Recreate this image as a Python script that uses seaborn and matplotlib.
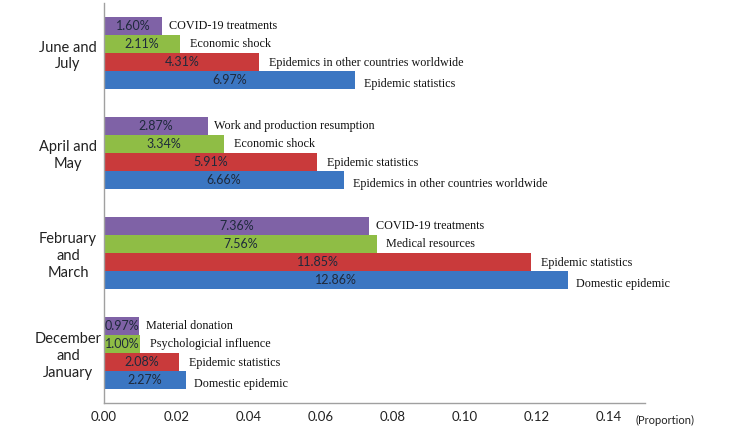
import matplotlib
matplotlib.use("Agg")
import matplotlib.pyplot as plt
import seaborn as sns
import pandas as pd
import numpy as np

periods = ["June and\nJuly", "April and\nMay", "February\nand\nMarch", "December\nand\nJanuary"]
ranks = ["4th", "3rd", "2nd", "1st"]  # top to bottom within each group
values = [
    [0.0160, 0.0211, 0.0431, 0.0697],
    [0.0287, 0.0334, 0.0591, 0.0666],
    [0.0736, 0.0756, 0.1185, 0.1286],
    [0.0097, 0.0100, 0.0208, 0.0227],
]
topics = [
    ["COVID-19 treatments", "Economic shock", "Epidemics in other countries worldwide", "Epidemic statistics"],
    ["Work and production resumption", "Economic shock", "Epidemic statistics", "Epidemics in other countries worldwide"],
    ["COVID-19 treatments", "Medical resources", "Epidemic statistics", "Domestic epidemic"],
    ["Material donation", "Psychologicial influence", "Epidemic statistics", "Domestic epidemic"],
]
colors = ["#7f62a6", "#8fbd45", "#c93a3b", "#3b76c2"]
xticks = [0.00, 0.02, 0.04, 0.06, 0.08, 0.10, 0.12, 0.14]

rows = []
for p, vals, tps in zip(periods, values, topics):
    for r, v, t in zip(ranks, vals, tps):
        rows.append({"period": p, "rank": r, "value": v, "topic": t})
df = pd.DataFrame(rows)

sns.set_style("white")
plt.rcParams["font.family"] = ["Lato", "DejaVu Sans"]

fig = plt.figure(figsize=(7.33, 4.28), dpi=100)
ax = fig.add_axes([104 / 733, 1 - 403 / 428, (645 - 104) / 733, 400 / 428])

sns.barplot(data=df, y="period", x="value", hue="rank", order=periods, hue_order=ranks,
            palette=colors, orient="h", width=0.72, dodge=True, ax=ax, legend=False,
            saturation=1, edgecolor="none")

x_off = [5, 7, 7, 6]
y_off = [0, 0, -1, -3]
for i, cont in enumerate(ax.containers):
    vals = [values[g][i] for g in range(len(periods))]
    tps = [topics[g][i] for g in range(len(periods))]
    ax.bar_label(cont, labels=[f"{v*100:.2f}%" for v in vals], label_type="center",
                 fontsize=9, color="#1f2a3c", family=["Lato", "DejaVu Sans"])
    for bar, t in zip(cont, tps):
        y = bar.get_y() + bar.get_height() / 2
        ax.annotate(t, xy=(bar.get_width(), y), xytext=(x_off[i], y_off[i]), textcoords="offset points",
                    ha="left", va="center", fontsize=8.7, family=["Liberation Serif", "DejaVu Serif"],
                    color="#111111")

ax.set_xlim(0, 0.15)
ax.set_ylim(3.5, -0.5)
ax.set_xticks(xticks)
ax.set_xticklabels([f"{t:.2f}" for t in xticks], fontsize=9.5, color="#222222")
ax.set_yticks(range(len(periods)))
ax.set_yticks(np.arange(-0.5, len(periods), 1.0), minor=True)
ax.tick_params(axis="y", which="major", length=0, pad=26)
ax.tick_params(axis="y", which="minor", length=4, direction="out", color="#a0a0a0")
ax.tick_params(axis="x", which="major", length=4, direction="in", color="#a0a0a0", pad=6)
ax.set_yticklabels(periods, fontsize=10.5, color="#222222", multialignment="center",
                   ha="center", linespacing=1.25)
ax.set_xlabel("")
ax.set_ylabel("")
for s in ["top", "right"]:
    ax.spines[s].set_visible(False)
for s in ["left", "bottom"]:
    ax.spines[s].set_color("#a0a0a0")
    ax.spines[s].set_linewidth(1)

fig.text(636 / 733, 1 - 420 / 428, "(Proportion)", fontsize=8, color="#222222", va="center", ha="left")

fig.savefig("out.png", dpi=100)
